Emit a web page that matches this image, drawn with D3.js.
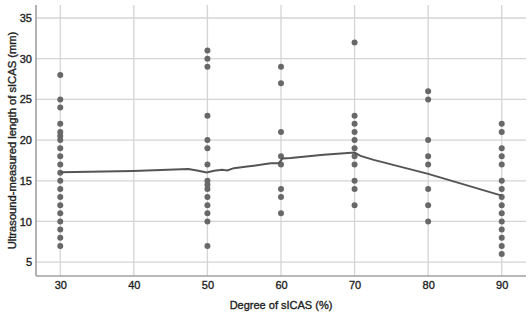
<!DOCTYPE html>
<html>
<head>
<meta charset="utf-8">
<script src="https://cdn.jsdelivr.net/npm/d3@7"></script>
<style>
  body { margin: 0; background: #fff; }
  text { font-family: "Liberation Sans", Arial, sans-serif; fill: #1e1e1e; stroke: #1e1e1e; stroke-width: 0.35px; }
</style>
</head>
<body>
<svg id="chart" width="529" height="315"></svg>
<script>
'use strict';

// degree of sICAS groups and the measured lengths in each group
const deg30 = [28, 25, 24, 22, 21, 20.5, 20, 19, 18, 17, 16, 15, 14, 13, 12, 11, 10, 9, 8, 7];
const deg50 = [31, 30, 29, 23, 20, 19, 17, 15, 14.5, 14, 13, 12, 11, 10, 7];
const deg60 = [29, 27, 21, 18, 17, 14, 13, 11];
const deg70 = [32, 23, 22, 21, 20, 19, 18, 17, 15, 14, 12];
const deg80 = [26, 25, 20, 18, 17, 14, 12, 10];
const deg90 = [22, 21, 19, 18, 17, 15, 14, 13, 12, 11, 10, 9, 8, 7, 6];

// fit line
const fitX = [30, 39.9, 47.4, 48.6, 49.9, 50.9, 52.0, 52.7, 53.6, 55.4, 57.2, 58.6, 59.7, 60.2, 61.3, 65.8, 70.0, 70.8, 72.6, 80, 90];
const fitY = [16.05, 16.2, 16.46, 16.26, 16.01, 16.22, 16.34, 16.26, 16.55, 16.75, 16.96, 17.16, 17.16, 17.73, 17.8, 18.19, 18.47, 18.06, 17.57, 15.85, 13.18];

const xTicks = [30, 40, 50, 60, 70, 80, 90];
const yTicks = [5, 10, 15, 20, 25, 30, 35];

let groups = [[30, deg30], [50, deg50], [60, deg60], [70, deg70], [80, deg80], [90, deg90]];
let points = [];
groups.forEach(function (g) {
	g[1].forEach(function (v) { points.push({x: g[0], y: v}); });
});

let svg = d3.select("#chart"),
	pLeft = 36, pRight = 526, pTop = 5, pBottom = 276;

let x = d3.scaleLinear().domain([26.7, 93.3]).range([pLeft, pRight]);
let y = d3.scaleLinear().domain([3.3, 36.6]).range([pBottom, pTop]);

// gridlines
svg.append("g")
	.selectAll("line")
	.data(xTicks)
	.enter().append("line")
	.attr("x1", d => x(d)).attr("x2", d => x(d))
	.attr("y1", pTop).attr("y2", pBottom)
	.attr("stroke", "#d4d4d4").attr("stroke-width", 1.3);

svg.append("g")
	.selectAll("line")
	.data(yTicks)
	.enter().append("line")
	.attr("x1", pLeft).attr("x2", pRight)
	.attr("y1", d => y(d)).attr("y2", d => y(d))
	.attr("stroke", "#d4d4d4").attr("stroke-width", 1.3);

// axes
let xAxis = svg.append("g")
	.attr("transform", "translate(0," + pBottom + ")")
	.call(d3.axisBottom(x).tickValues(xTicks).tickSize(0).tickPadding(5));
xAxis.select(".domain").remove();
xAxis.selectAll("text").attr("font-size", 11).attr("font-family", null).attr("fill", null);

let yAxis = svg.append("g")
	.attr("transform", "translate(" + pLeft + ",0)")
	.call(d3.axisLeft(y).tickValues(yTicks).tickSize(0).tickPadding(4));
yAxis.select(".domain").remove();
yAxis.selectAll("text").attr("font-size", 11).attr("font-family", null).attr("fill", null);

svg.append("line")
	.attr("x1", pLeft).attr("x2", pRight)
	.attr("y1", pBottom).attr("y2", pBottom)
	.attr("stroke", "#a0a0a0").attr("stroke-width", 1.6);
svg.append("line")
	.attr("x1", pLeft).attr("x2", pLeft)
	.attr("y1", pTop).attr("y2", pBottom)
	.attr("stroke", "#a0a0a0").attr("stroke-width", 1.6);

// dots
svg.append("g")
	.selectAll("circle")
	.data(points)
	.enter().append("circle")
	.attr("cx", d => x(d.x))
	.attr("cy", d => y(d.y))
	.attr("r", 3)
	.attr("fill", "#686868");

// fit line
let line = d3.line()
	.x(d => x(d[0]))
	.y(d => y(d[1]));
svg.append("path")
	.datum(d3.zip(fitX, fitY))
	.attr("d", line)
	.attr("fill", "none")
	.attr("stroke", "#555")
	.attr("stroke-width", 2);

// titles
svg.append("text")
	.attr("x", (pLeft + pRight) / 2)
	.attr("y", 309)
	.attr("text-anchor", "middle")
	.attr("font-size", 11)
	.text("Degree of sICAS (%)");

svg.append("text")
	.attr("transform", "translate(12," + ((pTop + pBottom) / 2) + ") rotate(-90)")
	.attr("dy", "0.35em")
	.attr("text-anchor", "middle")
	.attr("font-size", 11.2)
	.text("Ultrasound-measured length of sICAS (mm)");
</script>
</body>
</html>
